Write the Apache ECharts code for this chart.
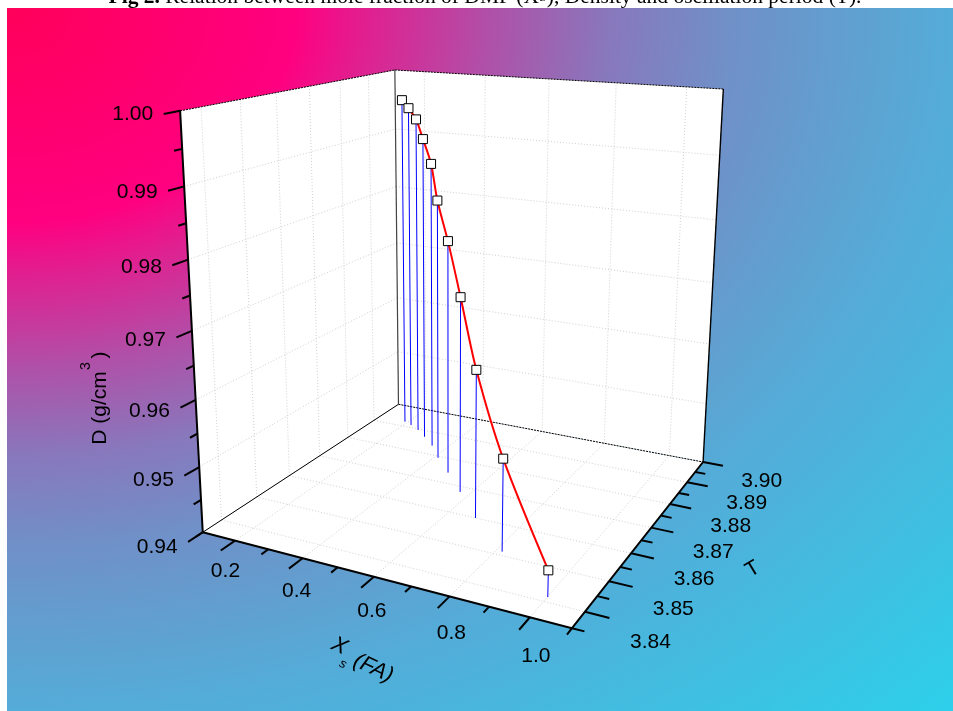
<!DOCTYPE html>
<html><head><meta charset="utf-8"><style>html,body{margin:0;padding:0;background:#fff;overflow:hidden}#c{width:953px;height:711px}</style>
<script src="https://cdn.jsdelivr.net/npm/echarts@6/dist/echarts.min.js"></script></head><body><div id="c"></div>
<script>
// ---- data ----
const xsValues=[0.191,0.221,0.259,0.302,0.354,0.411,0.484,0.571,0.677,0.816,1.001];
const tValues=[3.8922,3.8912,3.8896,3.8871,3.8839,3.8793,3.8742,3.8679,3.8600,3.8512,3.8414];
const dValues=[0.9960,0.9949,0.9934,0.9907,0.9874,0.9826,0.9776,0.9709,0.9628,0.9538,0.9438];
const xMajorTicks=[0.2,0.4,0.6,0.8,1.0];
const xMinorTicks=[0.1,0.3,0.5,0.7,0.9,1.1];
const tMajorTicks=[3.84,3.85,3.86,3.87,3.88,3.89,3.90];
const tMinorTicks=[3.835,3.845,3.855,3.865,3.875,3.885,3.895];
const dMajorTicks=[0.94,0.95,0.96,0.97,0.98,0.99,1.00];
const dMinorTicks=[0.945,0.955,0.965,0.975,0.985,0.995];
const xRange=[0.1,1.1], tRange=[3.835,3.90], dRange=[0.94,1.00];

// ---- 3D box calibration: camera fitted to the box corners ----
const cameraFit=[[0,0,0,203.3,532.3],[1,0,0,571.5,628.5],[1,1,0,703.5,461.5],[0,1,0,398,404.5],[0,0,1,180,110.5],[0,1,1,395,70],[1,1,1,723.3,89.3]];
function solve(A,b){const n=b.length;const M=A.map((r,i)=>r.concat(b[i]));for(let i=0;i<n;i++){let q=i;for(let k=i+1;k<n;k++)if(Math.abs(M[k][i])>Math.abs(M[q][i]))q=k;[M[i],M[q]]=[M[q],M[i]];for(let k=0;k<n;k++){if(k===i)continue;const f=M[k][i]/M[i][i];for(let j=i;j<=n;j++)M[k][j]-=f*M[i][j];}}return M.map((r,i)=>r[n]/r[i]);}
const rows=[],rhs=[];cameraFit.forEach(([u,v,w,x,y])=>{rows.push([u,v,w,1,0,0,0,0,-x*u,-x*v,-x*w]);rhs.push(x);rows.push([0,0,0,0,u,v,w,1,-y*u,-y*v,-y*w]);rhs.push(y);});
const N=Array.from({length:11},(_,i)=>Array.from({length:11},(_,j)=>rows.reduce((s,r)=>s+r[i]*r[j],0)));
const B=Array.from({length:11},(_,i)=>rows.reduce((s,r,k)=>s+r[i]*rhs[k],0));
const p=solve(N,B);
const nx=x=>(x-xRange[0])/(xRange[1]-xRange[0]), nt=t=>(t-tRange[0])/(tRange[1]-tRange[0]), nd=d=>(d-dRange[0])/(dRange[1]-dRange[0]);
const uvw=(u,v,w)=>{const q=p[8]*u+p[9]*v+p[10]*w+1;return [(p[0]*u+p[1]*v+p[2]*w+p[3])/q,(p[4]*u+p[5]*v+p[6]*w+p[7])/q];};
const P=(x,t,d)=>uvw(nx(x),nt(t),nd(d));
const seg=(a,b)=>[a[0],a[1],b[0],b[1]];

// ---- derived segments ----
const MAJ_T=0.058, MAJ_X=0.058;
const gridSegs=[];
xMajorTicks.forEach(x=>{gridSegs.push(seg(uvw(nx(x),0,0),uvw(nx(x),1,0)),seg(uvw(nx(x),1,0),uvw(nx(x),1,1)));});
tMajorTicks.slice(0,-1).forEach(t=>{gridSegs.push(seg(uvw(0,nt(t),0),uvw(1,nt(t),0)),seg(uvw(0,nt(t),0),uvw(0,nt(t),1)));});
dMajorTicks.slice(1,-1).forEach(d=>{gridSegs.push(seg(uvw(0,0,nd(d)),uvw(0,1,nd(d))),seg(uvw(0,1,nd(d)),uvw(1,1,nd(d))));});
const tickSegs=[];
xMajorTicks.forEach(x=>tickSegs.push(seg(uvw(nx(x),0,0),uvw(nx(x),-MAJ_T,0))));
xMinorTicks.forEach(x=>tickSegs.push(seg(uvw(nx(x),0,0),uvw(nx(x),-MAJ_T/2,0))));
tMajorTicks.forEach(t=>tickSegs.push(seg(uvw(1,nt(t),0),uvw(1+MAJ_X,nt(t),0))));
tMinorTicks.forEach(t=>tickSegs.push(seg(uvw(1,nt(t),0),uvw(1+MAJ_X/2,nt(t),0))));
dMajorTicks.forEach(d=>tickSegs.push(seg(uvw(0,0,nd(d)),uvw(0,-MAJ_T,nd(d)))));
dMinorTicks.forEach(d=>tickSegs.push(seg(uvw(0,0,nd(d)),uvw(0,-MAJ_T/2,nd(d)))));
const frontEdges=[seg(uvw(0,0,0),uvw(0,0,1)),seg(uvw(0,0,0),uvw(1,0,0)),seg(uvw(1,0,0),uvw(1,1,0))];
const thinEdges=[seg(uvw(0,0,0),uvw(0,1,0))];
const dottedEdges=[seg(uvw(0,1,0),uvw(1,1,0)),seg(uvw(0,0,1),uvw(0,1,1)),seg(uvw(0,1,1),uvw(1,1,1))];
const backUpright=[seg(uvw(0,1,0),uvw(0,1,1))];
const rightUpright=[seg(uvw(1,1,0),uvw(1,1,1))];
const stemSegs=xsValues.map((x,i)=>seg(P(x,tValues[i],dValues[i]),P(x,tValues[i],dRange[0])));
const curve=xsValues.map((x,i)=>P(x,tValues[i],dValues[i]));
const panels=[[[0,0,0],[1,0,0],[1,1,0],[0,1,0]],[[0,0,0],[0,1,0],[0,1,1],[0,0,1]],[[0,1,0],[1,1,0],[1,1,1],[0,1,1]]].map(f=>f.map(c=>uvw(c[0],c[1],c[2])));

const dLabels=dMajorTicks.map(d=>{const e=uvw(0,-MAJ_T,nd(d));return {pos:[e[0]-10.5,e[1]+5.5-5*nd(d)],text:d.toFixed(2),align:'right'};});
const xLabels=xMajorTicks.map(x=>{const e=uvw(nx(x),-MAJ_T,0);return {pos:[e[0]+4.7+15*(x-.2),e[1]+20.8+7.5*(x-.2)],text:x.toFixed(1),align:'center'};});
const tLabels=tMajorTicks.map(t=>{const e=uvw(1+MAJ_X,nt(t),0),f=(t-3.84)/.06;return {pos:[e[0]+41-2.3*f,e[1]+24-9*f],text:t.toFixed(2),align:'center'};});
const axisLabels=dLabels.concat(xLabels,tLabels);

const segSeries=(name,segs,style,z)=>({name,type:'custom',coordinateSystem:'cartesian2d',z,silent:true,clip:false,encode:{x:[0,2],y:[1,3]},data:segs,
 renderItem:(params,api)=>{const a=api.coord([api.value(0),api.value(1)]),b=api.coord([api.value(2),api.value(3)]);return {type:'line',shape:{x1:a[0],y1:a[1],x2:b[0],y2:b[1]},style:Object.assign({fill:null},style)};}});

const chart=echarts.init(document.getElementById('c'),null,{renderer:'canvas'});
// elliptical radial wash from the panel's top-left corner
const bg=new echarts.graphic.RadialGradient(0,0,994,[
 {offset:0,color:'#ff005a'},{offset:0.216,color:'#ff0080'},{offset:0.27,color:'#e02090'},{offset:0.361,color:'#b050a8'},{offset:0.451,color:'#8878bc'},{offset:0.541,color:'#7090c8'},{offset:0.632,color:'#60a0d0'},{offset:0.707,color:'#54acd8'},{offset:1,color:'#2dd0ea'}],true);
const deg=Math.PI/180;
chart.setOption({
 animation:false,
 grid:{left:0,right:0,top:0,bottom:0,containLabel:false},
 xAxis:{type:'value',min:0,max:953,show:false},
 yAxis:{type:'value',min:0,max:711,inverse:true,show:false},
 graphic:[
  {type:'text',z:0,x:485,y:8,style:{text:'{b|Fig 2.} Relation between mole fraction of DMF (X{s|S}), Density and oscillation period (T).',font:'21.5px "Liberation Serif"',fill:'#000',align:'center',verticalAlign:'bottom',rich:{b:{font:'bold 21.5px "Liberation Serif"',fill:'#000'},s:{font:'14px "Liberation Serif"',fill:'#000'}}}},
  {type:'rect',z:1,silent:true,x:7,y:8,scaleX:946/703,shape:{x:0,y:0,width:703,height:703},style:{fill:bg}},
  {type:'text',z:100,x:100,y:408,rotation:90*deg,style:{text:'D (g/cm',font:'21px "Liberation Sans"',fill:'#000',align:'center',verticalAlign:'middle'}},
  {type:'text',z:100,x:86,y:366,rotation:90*deg,style:{text:'3',font:'14px "Liberation Sans"',fill:'#000',align:'center',verticalAlign:'middle'}},
  {type:'text',z:100,x:100,y:355,rotation:90*deg,style:{text:')',font:'21px "Liberation Sans"',fill:'#000',align:'center',verticalAlign:'middle'}},
  {type:'text',z:100,x:339.3,y:646,rotation:-25*deg,style:{text:'X',font:'italic 22px "Liberation Sans"',fill:'#000',align:'center',verticalAlign:'middle'}},
  {type:'text',z:100,x:343,y:664,rotation:-25*deg,style:{text:'s',font:'italic 13px "Liberation Sans"',fill:'#000',align:'center',verticalAlign:'middle'}},
  {type:'text',z:100,x:373.3,y:668.3,rotation:-25*deg,style:{text:'(FA)',font:'italic 22px "Liberation Sans"',fill:'#000',align:'center',verticalAlign:'middle'}},
  {type:'text',z:100,x:752.7,y:569.3,rotation:31*deg,style:{text:'T',font:'21px "Liberation Sans"',fill:'#000',align:'center',verticalAlign:'middle'}}
 ],
 series:[
  {name:'panels',type:'custom',coordinateSystem:'cartesian2d',z:2,silent:true,clip:false,data:[0,1,2],
   renderItem:(params,api)=>({type:'polygon',shape:{points:panels[params.dataIndex].map(q=>api.coord(q))},style:{fill:'#fff'}})},
  segSeries('grid',gridSegs,{stroke:'#d0d0d0',lineWidth:1,lineDash:[1,2]},3),
  segSeries('thin edges',thinEdges,{stroke:'#000',lineWidth:1},4),
  segSeries('dotted edges',dottedEdges,{stroke:'#000',lineWidth:1,lineDash:[2,1]},4),
  segSeries('back upright',backUpright,{stroke:'#444',lineWidth:1.2},4),
  segSeries('right upright',rightUpright,{stroke:'#000',lineWidth:1.4},4),
  segSeries('front edges',frontEdges,{stroke:'#000',lineWidth:2,lineCap:'round'},5),
  segSeries('ticks',tickSegs,{stroke:'#000',lineWidth:2},5),
  segSeries('drop lines',stemSegs,{stroke:'#0000ff',lineWidth:1},6),
  {name:'D vs Xs, T',type:'line',z:7,data:curve,smooth:0.3,clip:false,symbol:'rect',symbolSize:9,showSymbol:true,
   lineStyle:{color:'#ff0000',width:2},itemStyle:{color:'#fff',borderColor:'#000',borderWidth:1}},
  {name:'axis labels',type:'custom',coordinateSystem:'cartesian2d',z:8,silent:true,clip:false,data:axisLabels.map(l=>l.pos),
   renderItem:(params,api)=>{const l=axisLabels[params.dataIndex],q=api.coord(l.pos);return {type:'text',x:q[0],y:q[1],style:{text:l.text,font:'21px "Liberation Sans"',fill:'#000',align:l.align,verticalAlign:'middle'}};}}
 ]
});
</script></body></html>
